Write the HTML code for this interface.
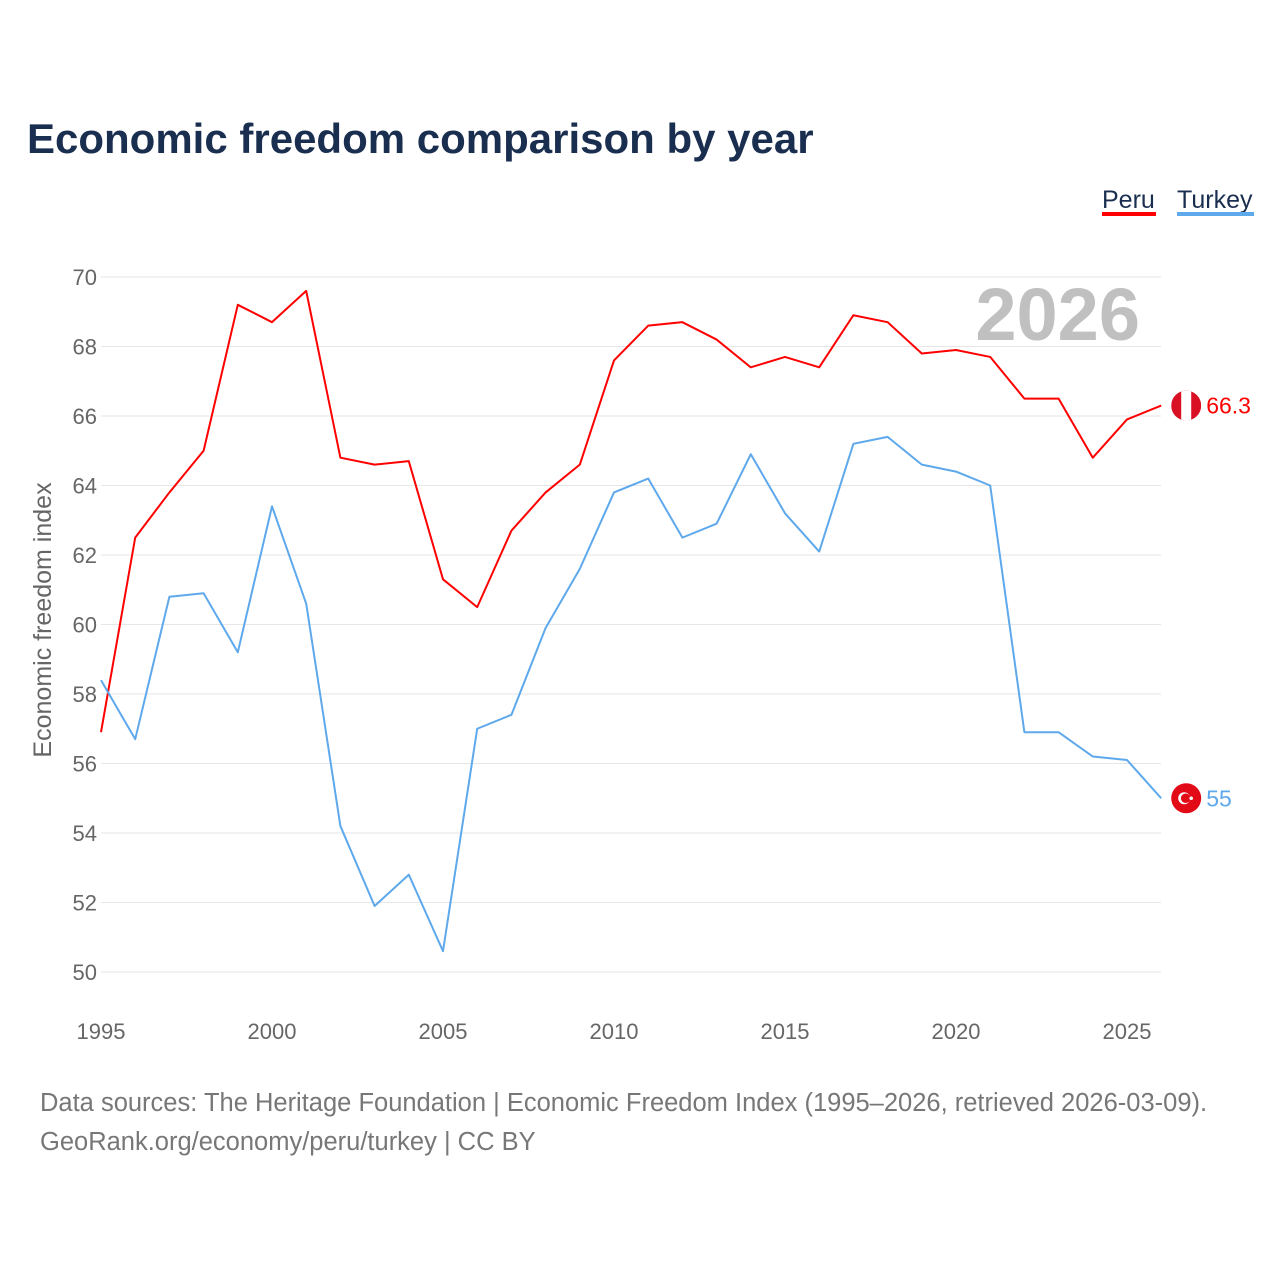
<!DOCTYPE html>
<html><head><meta charset="utf-8"><style>
body{margin:0;background:#fff;width:1280px;height:1280px;overflow:hidden;font-family:"Liberation Sans",sans-serif}
</style></head><body>
<svg id="chart" width="1280" height="1280" viewBox="0 0 1280 1280">
<text x="27" y="153" font-size="42" font-weight="bold" fill="#1a2e4f">Economic freedom comparison by year</text>
<g>
<text x="1102" y="208" font-size="25" fill="#1a2e4f">Peru</text>
<rect x="1102" y="212" width="54" height="4" fill="#ff0000"/>
<text x="1177" y="208" font-size="25" fill="#1a2e4f">Turkey</text>
<rect x="1177" y="212" width="77" height="4" fill="#5ea8ec"/>
</g>
<text x="1140" y="340" font-size="74" font-weight="bold" fill="#c0c0c0" text-anchor="end">2026</text>
<text transform="translate(51,620) rotate(-90)" font-size="25" fill="#666" text-anchor="middle">Economic freedom index</text>
<g id="grid"></g><g id="series"></g>
<text x="40" y="1111" font-size="25.5" fill="#777">Data sources: The Heritage Foundation | Economic Freedom Index (1995–2026, retrieved 2026-03-09).</text>
<text x="40" y="1150" font-size="25.5" fill="#777">GeoRank.org/economy/peru/turkey | CC BY</text>
</svg>
<script>
const years=[1995,1996,1997,1998,1999,2000,2001,2002,2003,2004,2005,2006,2007,2008,2009,2010,2011,2012,2013,2014,2015,2016,2017,2018,2019,2020,2021,2022,2023,2024,2025,2026];
const peru=[56.9,62.5,63.8,65.0,69.2,68.7,69.6,64.8,64.6,64.7,61.3,60.5,62.7,63.8,64.6,67.6,68.6,68.7,68.2,67.4,67.7,67.4,68.9,68.7,67.8,67.9,67.7,66.5,66.5,64.8,65.9,66.3];
const turkey=[58.4,56.7,60.8,60.9,59.2,63.4,60.6,54.2,51.9,52.8,50.6,57.0,57.4,59.9,61.6,63.8,64.2,62.5,62.9,64.9,63.2,62.1,65.2,65.4,64.6,64.4,64.0,56.9,56.9,56.2,56.1,55.0];
const yTicks=[50,52,54,56,58,60,62,64,66,68,70];
const xTicks=[1995,2000,2005,2010,2015,2020,2025];
const NS="http://www.w3.org/2000/svg";
const xs=y=>101+(y-1995)*(1127-101)/30;
const ys=v=>972-(v-50)*(972-277)/20;
function mk(t,a,p){const e=document.createElementNS(NS,t);for(const k in a)e.setAttribute(k,a[k]);p.appendChild(e);return e;}
const g=document.getElementById('grid'),s=document.getElementById('series');
yTicks.forEach(v=>{
 const l=mk('line',{x1:101,x2:1161,y1:ys(v),y2:ys(v),stroke:'#e6e6e6','stroke-width':1},g);
 
 
 const t=mk('text',{x:97,y:ys(v)+8,'font-size':22,fill:'#666','text-anchor':'end'},g);t.textContent=v;
 
 
});
xTicks.forEach(v=>{
 const t=mk('text',{x:xs(v),y:1039,'font-size':22,fill:'#666','text-anchor':'middle'},g);t.textContent=v;
 
 
});
function line(vals,color,name){
 const p=mk('polyline',{points:vals.map((v,i)=>xs(years[i])+','+ys(v)).join(' '),fill:'none',stroke:color,'stroke-width':2,'stroke-linejoin':'round'},s);
 
 
}
line(peru,'#ff0000','peru');line(turkey,'#5ea8ec','turkey');
const last=years.length-1,fx=xs(years[last])+25;
const py=ys(peru[last]);
const pf=mk('g',{},s);


const cp=mk('clipPath',{id:'cpp'},pf);mk('circle',{cx:fx,cy:py,r:15},cp);
mk('rect',{x:fx-15,y:py-15,width:30,height:30,fill:'#d91023','clip-path':'url(#cpp)'},pf);
mk('rect',{x:fx-5,y:py-15,width:10,height:30,fill:'#fff','clip-path':'url(#cpp)'},pf);
const pl=mk('text',{x:fx+20,y:py+8,'font-size':23,fill:'#ff0000'},s);pl.textContent=peru[last];


const ty=ys(turkey[last]);
const tf=mk('g',{},s);


mk('circle',{cx:fx,cy:ty,r:15,fill:'#e30a17'},tf);
mk('circle',{cx:fx-2,cy:ty,r:6,fill:'#fff'},tf);
mk('circle',{cx:fx-0.5,cy:ty,r:4.8,fill:'#e30a17'},tf);
mk('circle',{cx:fx+5,cy:ty,r:1.8,fill:'#fff'},tf);
const tl=mk('text',{x:fx+20,y:ty+8,'font-size':23,fill:'#5ea8ec'},s);tl.textContent=turkey[last];


</script>
</body></html>
